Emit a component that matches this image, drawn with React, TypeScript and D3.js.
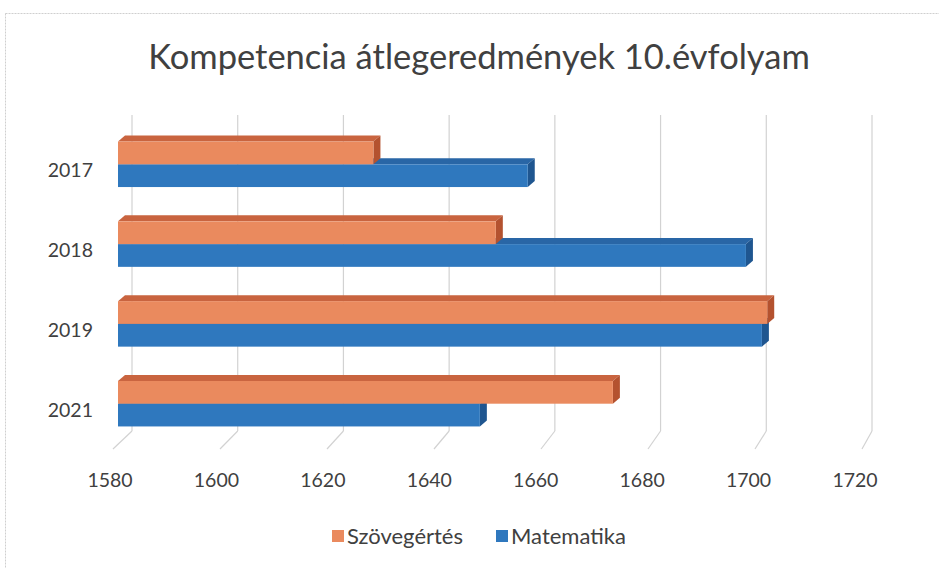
import React from 'react';
import * as d3 from 'd3';

const years = ['2017', '2018', '2019', '2021'];
const szovegertes = [1628, 1651, 1702, 1673];
const matematika = [1657, 1698, 1701, 1648];
const ticks = [1580, 1600, 1620, 1640, 1660, 1680, 1700, 1720];
const seriesNames = ['Szövegértés', 'Matematika'];

const W = 939;
const H = 568;
const FONT = 'Lato, "Open Sans", sans-serif';

// colours for the faces of the 3D bars: front, top, side
const orange = { front: '#EA8A5E', top: '#C9643F', side: '#B4522F' };
const blue = { front: '#2F78BE', top: '#2966A6', side: '#1F5690' };

export default function App() {
  // bar front face, back wall and front floor edge each get their own scale
  const xBar = d3.scaleLinear().domain([1580, 1720]).range([118, 863]);
  const xBack = d3.scaleLinear().domain([1580, 1720]).range([132, 872]);
  const xFloor = d3.scaleLinear().domain([1580, 1720]).range([113, 862]);
  const xLabel = d3.scaleLinear().domain([1580, 1720]).range([110, 855]);

  const y = d3.scaleBand().domain(years).range([124, 444]).paddingInner(0.43).paddingOuter(0.22);
  const ySub = d3.scaleBand().domain(seriesNames).range([0, y.bandwidth()]);

  const dx = 7;
  const dy = 6;
  const wallTop = 115;
  const wallBottom = 431;
  const floorFront = 449;

  const bar = (v: number, top: number, h: number, c: typeof orange, key: string) => {
    const x0 = xBar(1580);
    const x1 = xBar(v);
    const topFace = `M${x0},${top} L${x0 + dx},${top - dy} L${x1 + dx},${top - dy} L${x1},${top} Z`;
    const side = `M${x1},${top} L${x1 + dx},${top - dy} L${x1 + dx},${top + h - dy} L${x1},${top + h} Z`;
    return (
      <g key={key}>
        <path d={topFace} fill={c.top} />
        <path d={side} fill={c.side} />
        <rect x={x0} y={top} width={x1 - x0} height={h} fill={c.front} />
      </g>
    );
  };

  return (
    <svg width={W} height={H} style={{ position: 'absolute', left: 0, top: 0, background: '#fff' }}>
      <rect x={5.5} y={13.5} width={W} height={H} fill="#fff" stroke="#cfcfcf" strokeDasharray="2,1" />

      <text x={479} y={69} textAnchor="middle" fontFamily={FONT} fontSize={34.5} fill="#404040">
        Kompetencia átlegeredmények 10.évfolyam
      </text>

      {/* back wall gridlines and floor lines */}
      {ticks.map((t) => (
        <g key={t} stroke="#d2d2d2" strokeWidth={1.2} fill="none">
          <line x1={xBack(t)} x2={xBack(t)} y1={wallTop} y2={wallBottom} />
          <line x1={xBack(t)} y1={wallBottom} x2={xFloor(t)} y2={floorFront} />
        </g>
      ))}

      {years.map((yr, i) => {
        const band = y(yr) as number;
        const h = ySub.bandwidth();
        return (
          <g key={yr}>
            {bar(matematika[i], band + (ySub('Matematika') as number), h, blue, 'm')}
            {bar(szovegertes[i], band + (ySub('Szövegértés') as number), h, orange, 's')}
          </g>
        );
      })}

      {years.map((yr) => (
        <text key={yr} x={93} y={(y(yr) as number) + y.bandwidth() / 2 + 13} textAnchor="end"
          fontFamily={FONT} fontSize={19.5} fill="#404040">
          {yr}
        </text>
      ))}

      {ticks.map((t) => (
        <text key={t} x={xLabel(t)} y={487} textAnchor="middle" fontFamily={FONT} fontSize={19.5} fill="#404040">
          {t}
        </text>
      ))}

      {/* legend */}
      <rect x={332} y={530} width={12} height={12} fill={orange.front} />
      <text x={347} y={544} fontFamily={FONT} fontSize={22} fill="#404040">Szövegértés</text>
      <rect x={496} y={530} width={12} height={12} fill={blue.front} />
      <text x={511} y={544} fontFamily={FONT} fontSize={22} fill="#404040">Matematika</text>
    </svg>
  );
}
